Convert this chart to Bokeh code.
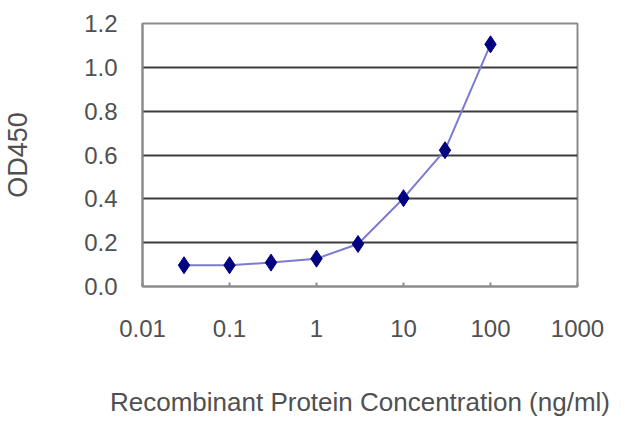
from bokeh.plotting import figure
from bokeh.models import Range1d, FixedTicker
from bokeh.embed import file_html
from bokeh.resources import INLINE

concentration = [0.03, 0.1, 0.3, 1, 3, 10, 30, 100]
od450 = [0.097, 0.097, 0.109, 0.127, 0.194, 0.403, 0.622, 1.105]
x_ticks = [0.01, 0.1, 1, 10, 100, 1000]
x_tick_labels = ["0.01", "0.1", "1", "10", "100", "1000"]
y_ticks = [0.0, 0.2, 0.4, 0.6, 0.8, 1.0, 1.2]

p = figure(width=624, height=419, x_axis_type="log", output_backend="svg",
           toolbar_location=None,
           x_range=Range1d(0.01, 1000), y_range=Range1d(0, 1.2),
           min_border_left=140, min_border_right=47, min_border_top=23, min_border_bottom=131)
p.background_fill_color = "white"
p.border_fill_color = "white"
p.outline_line_color = "#8c8c8c"
p.outline_line_width = 2

p.line(concentration, od450, line_color="#7b7bd0", line_width=2)
p.scatter(concentration, od450, marker="diamond", size=17, fill_color="#000080", line_color="#000080")

font = "Liberation Sans"
txt = "#505050"

xa = p.xaxis[0]
xa.ticker = FixedTicker(ticks=x_ticks)
xa.major_label_overrides = {t: l for t, l in zip(x_ticks, x_tick_labels)}
xa.minor_tick_line_color = None
xa.major_tick_in = 4
xa.major_tick_out = 0
xa.major_tick_line_color = "#8c8c8c"
xa.major_tick_line_width = 2
xa.axis_line_color = "#8c8c8c"
xa.axis_line_width = 2
xa.major_label_standoff = 33
xa.major_label_text_font = font
xa.major_label_text_font_size = "24px"
xa.major_label_text_color = txt
xa.axis_label = "Recombinant Protein Concentration (ng/ml)"
xa.axis_label_text_font = font
xa.axis_label_text_font_size = "26px"
xa.axis_label_text_font_style = "normal"
xa.axis_label_text_color = txt
xa.axis_label_standoff = 47

ya = p.yaxis[0]
ya.ticker = FixedTicker(ticks=y_ticks)
ya.major_label_overrides = {t: f"{t:.1f}" for t in y_ticks}
ya.minor_tick_line_color = None
ya.major_tick_in = 0
ya.major_tick_out = 0
ya.axis_line_color = "#8c8c8c"
ya.axis_line_width = 2
ya.major_label_standoff = 25
ya.major_label_text_font = font
ya.major_label_text_font_size = "24px"
ya.major_label_text_color = txt
ya.axis_label = "OD450"
ya.axis_label_text_font = font
ya.axis_label_text_font_size = "27px"
ya.axis_label_text_font_style = "normal"
ya.axis_label_text_color = txt
ya.axis_label_standoff = 48

p.xgrid.grid_line_color = None
p.ygrid.grid_line_color = "#3c3c3c"
p.ygrid.grid_line_width = 2

open("out.html", "w").write(file_html(p, INLINE))
